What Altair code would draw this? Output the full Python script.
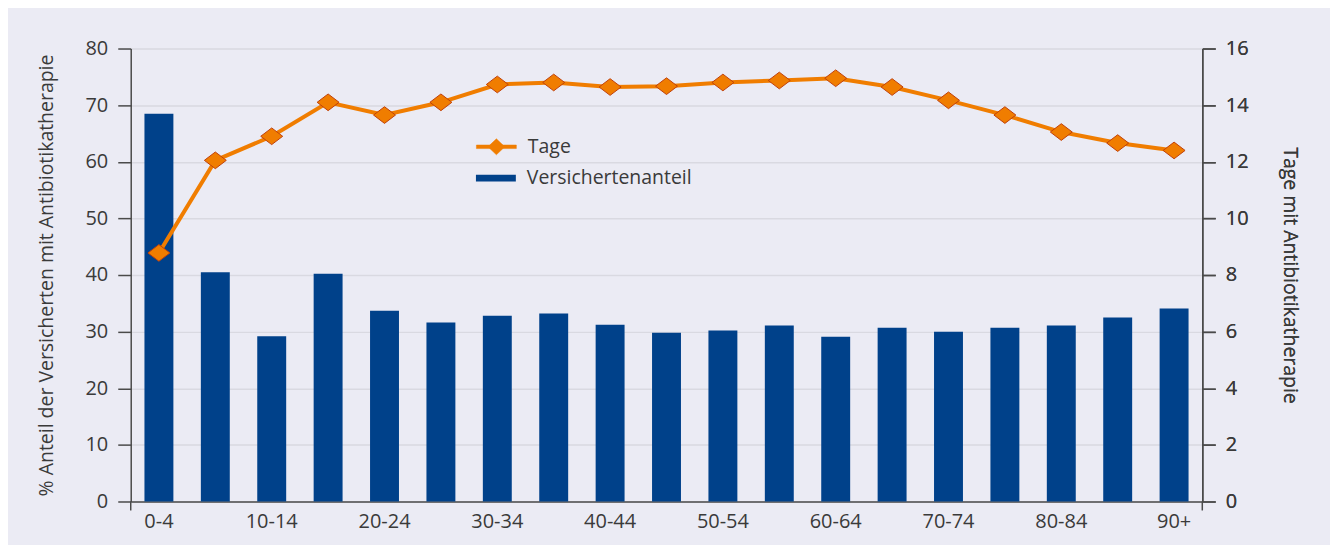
import altair as alt
import pandas as pd

categories = ["0-4", "5-9", "10-14", "15-19", "20-24", "25-29", "30-34", "35-39",
              "40-44", "45-49", "50-54", "55-59", "60-64", "65-69", "70-74",
              "75-79", "80-84", "85-89", "90+"]
anteil = [68.5, 40.5, 29.2, 40.2, 33.7, 31.6, 32.8, 33.2, 31.2, 29.8,
          30.2, 31.1, 29.1, 30.7, 30.0, 30.7, 31.1, 32.5, 34.1]
tage = [8.78, 12.05, 12.9, 14.1, 13.65, 14.1, 14.73, 14.8, 14.64, 14.67,
        14.8, 14.87, 14.95, 14.64, 14.17, 13.65, 13.05, 12.66, 12.4]
label_values = categories[::2]

BLUE = "#00418a"
ORANGE = "#f07d00"
DIAMOND_EDGE = "#c0400a"
BG = "#ebebf4"
GRID = "#d9d9e1"
AXIS = "#4a4a4a"
TEXT = "#3a3a3a"
FONT = "Open Sans"
LBL = 20
TTL = 19.5

df = pd.DataFrame({"cat": categories, "anteil": anteil, "tage": tage,
                   "bs": "Versichertenanteil", "ls": "Tage"})

W, H = 1074, 454

x = alt.X("cat:N", sort=categories,
          scale=alt.Scale(paddingInner=0.487, paddingOuter=0.2435),
          axis=alt.Axis(values=label_values, ticks=False, labelAngle=0,
                        labelFontSize=LBL, labelColor=TEXT, labelFont=FONT,
                        labelPadding=10, domainColor=AXIS, domainWidth=1.5,
                        title=None, grid=False))

bars = alt.Chart(df).mark_bar(fill=BLUE).encode(
    x=x,
    y=alt.Y("anteil:Q", scale=alt.Scale(domain=[0, 80], nice=False),
            axis=alt.Axis(orient="left", values=list(range(0, 81, 10)),
                          title="% Anteil der Versicherten mit Antibiotikatherapie",
                          titleFontSize=TTL, titleFontWeight="normal", titleColor=TEXT,
                          titleFont=FONT, titlePadding=29,
                          labelFontSize=LBL, labelColor=TEXT, labelFont=FONT,
                          labelPadding=10, tickSize=13, tickColor=AXIS, tickWidth=1.5,
                          domainColor=AXIS, domainWidth=1.5,
                          grid=True, gridColor=GRID, gridWidth=1.5)),
    color=alt.Color("bs:N", scale=alt.Scale(domain=["Versichertenanteil"], range=[BLUE]),
                    legend=alt.Legend(orient="none", legendX=346, legendY=110,
                                      title=None, symbolType="M-1,-0.17H1V0.17H-1Z",
                                      symbolSize=1600, symbolStrokeWidth=0,
                                      labelFontSize=TTL, labelColor=TEXT, labelFont=FONT,
                                      labelOffset=11, labelLimit=400, padding=0)),
)

right_y = alt.Y("tage:Q", scale=alt.Scale(domain=[0, 16], nice=False),
                axis=alt.Axis(orient="right", values=list(range(0, 17, 2)),
                              title="Tage mit Antibiotikatherapie",
                              titleFontSize=TTL, titleFontWeight="normal", titleColor=TEXT,
                              titleFont=FONT, titlePadding=32, titleAngle=90,
                              labelFontSize=LBL, labelColor=TEXT, labelFont=FONT,
                              labelPadding=10, tickSize=13, tickColor=AXIS, tickWidth=1.5,
                              domainColor=AXIS, domainWidth=1.5, grid=False))

line = alt.Chart(df).mark_line(strokeWidth=4).encode(
    x=x,
    y=right_y,
    stroke=alt.Stroke("ls:N", scale=alt.Scale(domain=["Tage"], range=[ORANGE]),
                      legend=alt.Legend(orient="none", legendX=346, legendY=78,
                                        title=None,
                                        symbolType="M-1,-0.09H1V0.09H-1Z M0,-0.4L0.42,0L0,0.4L-0.42,0Z",
                                        symbolSize=1600, symbolStrokeWidth=0.5,
                                        symbolFillColor=ORANGE,
                                        labelFontSize=TTL, labelColor=TEXT, labelFont=FONT,
                                        labelOffset=11, labelLimit=400, padding=0)),
)

points = alt.Chart(df).mark_point(
    shape="M-1,0L0,-0.76L1,0L0,0.76Z", filled=True, fill=ORANGE, stroke=DIAMOND_EDGE,
    strokeWidth=1, size=484, opacity=1
).encode(x=x, y=right_y)

ext_left = alt.Chart(alt.Data(values=[{}])).mark_rule(color=AXIS, strokeWidth=1.5).encode(
    x=alt.value(0), y=alt.value(H), y2=alt.value(H + 9))
ext_right = alt.Chart(alt.Data(values=[{}])).mark_rule(color=AXIS, strokeWidth=1.5).encode(
    x=alt.value(W), y=alt.value(H), y2=alt.value(H + 9))

chart = alt.layer(bars, line, points, ext_left, ext_right).resolve_scale(
    y="independent", color="independent", stroke="independent"
).properties(
    width=W, height=H,
    autosize=alt.AutoSizeParams(type="none"),
    padding={"left": 123, "top": 40, "right": 128, "bottom": 45},
    background=BG,
).configure_view(stroke=None)

chart.save("out.html", embed_options={"renderer": "svg", "actions": False})
